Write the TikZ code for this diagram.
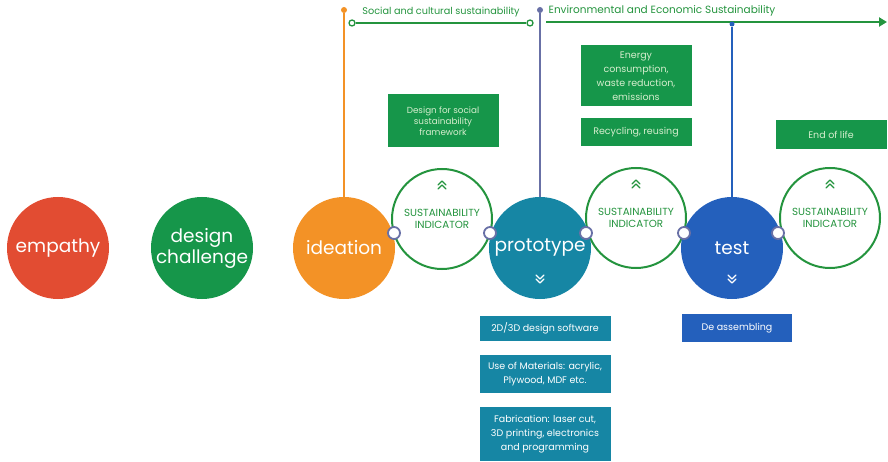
\documentclass[tikz,border=0pt]{standalone}
\usepackage{fontspec}
\setmainfont{Poppins}
\usetikzlibrary{arrows.meta,positioning}
\definecolor{cRed}{RGB}{226,76,50}
\definecolor{cGreen}{RGB}{22,150,74}
\definecolor{cOrange}{RGB}{243,146,38}
\definecolor{cTeal}{RGB}{22,134,164}
\definecolor{cBlue}{RGB}{36,96,188}
\definecolor{cRing}{RGB}{36,148,62}
\definecolor{cSlate}{RGB}{104,112,166}
\definecolor{cPale}{RGB}{214,238,206}
\tikzset{
  stage/.style={circle,minimum size=102pt,inner sep=0pt,text=white,align=center,
    font=\fontsize{18.5}{21}\selectfont},
  indicator/.style={circle,draw=cRing,line width=2pt,fill=white,minimum size=100pt,inner sep=0pt,
    text=cRing,align=center,font=\fontsize{10.3}{11.5}\selectfont},
  joint/.style={circle,draw=cSlate,fill=white,line width=1.8pt,minimum size=12pt,inner sep=0pt},
  gbox/.style={fill=cGreen,text=cPale,align=center,inner sep=2pt,minimum width=111pt,
    font=\fontsize{9.5}{14}\selectfont},
  pbox/.style={gbox,fill=cTeal,text=white,minimum width=131pt},
  tick/.style={circle,fill=#1,minimum size=6pt,inner sep=0pt},
  stem/.style={line width=1.6pt},
  pics/chev/.style args={#1/#2}{code={
    \draw[#1,line width=1.2pt,line cap=round,line join=round]
      (-4,#2*2)--(0,-#2*2)--(4,#2*2) (-4,#2*6)--(0,#2*2)--(4,#2*6);}}
}
\begin{document}
\begin{tikzpicture}[x=1pt,y=-1pt]
\useasboundingbox (0,0) rectangle (888,462);
% indicator rings first, the stages lie over them
\node[indicator] (si1) at (442,219) {SUSTAINABILITY\\INDICATOR};
\node[indicator] (si2) at (636,218) {SUSTAINABILITY\\INDICATOR};
\node[indicator] (si3) at (830,218) {SUSTAINABILITY\\INDICATOR};
\foreach \n in {si1,si2,si3}{\pic at ([yshift=36pt]\n.center) {chev=cRing/1};}

\node[stage,fill=cRed] (empathy) at (58,248) {empathy};
\node[stage,fill=cGreen] (challenge) at (202,248) {design\\challenge};
\node[stage,fill=cOrange] (ideation) at (344,248) {ideation};
\node[stage,fill=cTeal] (prototype) at (540,248) {prototype};
\node[stage,fill=cBlue] (test) at (732,248) {test};
\foreach \n in {prototype,test}{\pic at ([yshift=-33pt]\n.center) {chev=white/-1};}

\foreach \x [count=\i] in {394,490,586,684,778}{\node[joint] (j\i) at (\x,233) {};}

% timeline on top
\node[tick=cOrange] (oTop) at (344,10) {};
\node[tick=cSlate] (pTop) at (540,10) {};
\draw[stem,cOrange] (oTop) -- (ideation);
\draw[stem,cSlate] (pTop) -- (prototype);
\node[circle,draw=cRing,fill=white,line width=1.3pt,minimum size=6pt,inner sep=0pt] (socL) at (352,23) {};
\node[circle,draw=cRing,fill=white,line width=1.3pt,minimum size=6pt,inner sep=0pt] (socR) at (530,23) {};
\draw[cRing,line width=2pt] (socL) -- (socR);
\node[text=cRing,font=\fontsize{9.7}{10}\selectfont] (social) at (441,12) {Social and cultural sustainability};
\coordinate (envL) at (546,22);
\coordinate (envR) at (887,22);
\draw[cRing,line width=2pt,-{Triangle[length=8pt,width=9pt]}] (envL) -- (envR);
\node[text=cRing,font=\fontsize{10.5}{11}\selectfont] (env) at (662,11) {Environmental and Economic Sustainability};
\node[tick=cBlue,minimum size=5pt] (tTop) at (732,24) {};
\draw[stem,cBlue] (tTop) -- (test);

% notes above the rings
\node[gbox,minimum height=53pt,font=\fontsize{8.8}{10.8}\selectfont] (social frame) at (443,121) {Design for social\\sustainability\\framework};
\node[gbox,minimum height=61pt] (energy) at (636,76) {Energy\\consumption,\\waste reduction,\\emissions};
\node[gbox,minimum height=28pt,below=11pt of energy] (recycle) {Recycling, reusing};
\node[gbox,minimum height=29pt] (end life) at (831,135) {End of life};

% notes below the stages
\node[pbox,minimum height=25pt] (software) at (545,328) {2D/3D design software};
\node[pbox,minimum height=38pt,below=14pt of software] (materials) {Use of Materials: acrylic,\\Plywood, MDF etc.};
\node[pbox,minimum height=54pt,below=14pt of materials] (fabrication) {Fabrication: laser cut,\\3D printing, electronics\\and programming};
\node[gbox,fill=cBlue,text=white,minimum width=110pt,minimum height=28pt] (assembly) at (737,328) {De assembling};
\end{tikzpicture}
\end{document}
